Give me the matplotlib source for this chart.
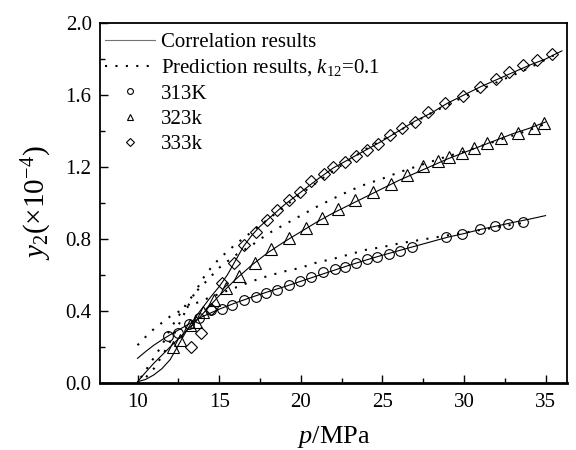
import numpy as np
import matplotlib
matplotlib.use("Agg")
import matplotlib.pyplot as plt
from matplotlib.ticker import MultipleLocator, FormatStrFormatter

plt.rcParams['font.family'] = ['Liberation Serif', 'DejaVu Serif']
plt.rcParams['mathtext.fontset'] = 'custom'
plt.rcParams['mathtext.rm'] = 'Liberation Serif'
plt.rcParams['mathtext.it'] = 'Liberation Serif:italic'

# Experimental data (p in MPa, y2 in 1e-4)
p_313 = [11.85, 12.46, 13.13, 13.78, 14.49, 15.16, 15.81, 16.52, 17.24, 17.88, 18.55, 19.27,
         19.98, 20.65, 21.34, 22.1, 22.7, 23.4, 24.04, 24.7, 25.4, 26.1, 26.8, 28.9, 29.9,
         31.0, 31.9, 32.7, 33.6]
y_313 = [0.26, 0.28, 0.33, 0.36, 0.405, 0.41, 0.433, 0.46, 0.48, 0.498, 0.517, 0.544,
         0.567, 0.59, 0.615, 0.633, 0.646, 0.668, 0.687, 0.698, 0.715, 0.735, 0.757, 0.81, 0.83,
         0.854, 0.872, 0.883, 0.896]

p_323 = [12.2, 12.6, 13.2, 13.6, 14.0, 14.7, 15.4, 16.2, 17.2, 18.2, 19.3, 20.3, 21.3, 22.3,
         23.3, 24.4, 25.5, 26.5, 27.5, 28.4, 29.1, 29.9, 30.6, 31.4, 32.3, 33.3, 34.3, 34.9]
y_323 = [0.2, 0.24, 0.32, 0.34, 0.396, 0.46, 0.53, 0.595, 0.665, 0.745, 0.805, 0.86, 0.915,
         0.965, 1.015, 1.06, 1.105, 1.155, 1.205, 1.235, 1.255, 1.275, 1.305, 1.335, 1.36,
         1.39, 1.415, 1.445]

p_333 = [13.27, 13.88, 14.53, 15.2, 15.9, 16.52, 17.24, 17.95, 18.55, 19.27, 19.98, 20.65,
         21.4, 22.0, 22.73, 23.37, 24.04, 24.76, 25.47, 26.18, 26.99, 27.8, 28.82, 29.94,
         30.96, 31.97, 32.79, 33.6, 34.5, 35.4]
y_333 = [0.2, 0.28, 0.41, 0.557, 0.668, 0.767, 0.84, 0.906, 0.96, 1.017, 1.063, 1.12,
         1.16, 1.2, 1.23, 1.26, 1.294, 1.33, 1.378, 1.415, 1.452, 1.507, 1.554, 1.594,
         1.646, 1.69, 1.73, 1.767, 1.794, 1.828]

# Correlation curves (solid)
pc_313 = [10, 10.5, 11, 11.5, 12, 13, 14, 15, 16, 17, 18, 19, 20, 21, 22, 23, 24, 25, 26,
          27, 28, 29, 30, 31, 32, 33, 34, 35]
yc_313 = [0.137, 0.175, 0.21, 0.24, 0.268, 0.32, 0.37, 0.41, 0.445, 0.477, 0.507, 0.535,
          0.565, 0.595, 0.625, 0.655, 0.683, 0.71, 0.735, 0.76, 0.785, 0.81, 0.83, 0.853,
          0.872, 0.892, 0.91, 0.93]

pc_323 = [10, 10.5, 11, 11.5, 12, 12.5, 13, 13.5, 14, 14.5, 15, 15.5, 16, 17, 18, 19, 20,
          21, 22, 23, 24, 25, 26, 27, 28, 29, 30, 31, 32, 33, 34, 35]
yc_323 = [0.007, 0.06, 0.11, 0.155, 0.2, 0.245, 0.29, 0.335, 0.385, 0.435, 0.485, 0.53,
          0.575, 0.655, 0.725, 0.785, 0.84, 0.895, 0.945, 0.99, 1.035, 1.08, 1.125, 1.165,
          1.205, 1.245, 1.28, 1.315, 1.35, 1.385, 1.415, 1.45]

pc_333 = [10, 10.5, 11, 11.5, 12, 12.5, 13, 13.5, 14, 14.5, 15, 15.5, 16, 16.5, 17, 17.5,
          18, 19, 20, 21, 22, 23, 24, 25, 26, 27, 28, 29, 30, 31, 32, 33, 34, 35, 36]
yc_333 = [0.007, 0.02, 0.045, 0.08, 0.13, 0.21, 0.29, 0.36, 0.42, 0.48, 0.535, 0.6, 0.68,
          0.76, 0.82, 0.87, 0.91, 0.99, 1.06, 1.13, 1.195, 1.245, 1.295, 1.345, 1.4, 1.455,
          1.5, 1.555, 1.6, 1.645, 1.685, 1.725, 1.765, 1.8, 1.845]

# Prediction curves (dotted), k12 = 0.1
pp_313 = [10, 10.5, 11, 11.5, 12, 13, 14, 15, 16, 17, 18, 19, 20, 21, 22, 23, 24, 25, 26,
          27, 28, 29, 30, 31, 32, 33, 34]
yp_313 = [0.21, 0.257, 0.30, 0.335, 0.37, 0.42, 0.46, 0.495, 0.53, 0.565, 0.595, 0.62,
          0.64, 0.67, 0.69, 0.715, 0.74, 0.755, 0.775, 0.79, 0.805, 0.82, 0.835, 0.85, 0.865,
          0.88, 0.895]

pp_323 = [10.2, 10.5, 11, 11.5, 12, 12.5, 13, 13.5, 14, 15, 16, 17, 18, 19, 20, 21, 22, 23,
          24, 25, 26, 27, 28, 29, 30, 31, 32, 33, 34, 35]
yp_323 = [0.03, 0.07, 0.14, 0.21, 0.3, 0.37, 0.44, 0.5, 0.545, 0.64, 0.71, 0.765, 0.83,
          0.88, 0.93, 0.98, 1.025, 1.068, 1.105, 1.135, 1.17, 1.2, 1.23, 1.26, 1.285, 1.315,
          1.345, 1.375, 1.405, 1.44]

pp_333 = [10, 10.5, 11, 11.5, 12, 12.5, 13, 13.5, 14, 14.5, 15, 16, 17, 18, 19, 20, 22,
          24, 26, 28, 30, 32, 34, 35.5]
yp_333 = [0.0, 0.03, 0.08, 0.15, 0.23, 0.32, 0.41, 0.5, 0.58, 0.64, 0.69, 0.77, 0.84,
          0.91, 0.98, 1.05, 1.18, 1.3, 1.4, 1.5, 1.59, 1.67, 1.75, 1.82]

fig = plt.figure(figsize=(5.76, 4.5), dpi=100)
ax = fig.add_axes([0.1736, 0.1489, 0.8104, 0.80])

lw_solid = 0.8
dot_style = (0, (1, 4))
ax.plot(pc_313, yc_313, '-', color='black', lw=lw_solid, label='Correlation results')
ax.plot(pp_313, yp_313, linestyle=dot_style, color='black', lw=1.5,
        label='Prediction results, $k_{12}$=0.1')
ax.plot(pc_323, yc_323, '-', color='black', lw=lw_solid)
ax.plot(pc_333, yc_333, '-', color='black', lw=lw_solid)
ax.plot(pp_323, yp_323, linestyle=dot_style, color='black', lw=1.5)
ax.plot(pp_333, yp_333, linestyle=dot_style, color='black', lw=1.5)

ms = 7
ax.plot(p_313, y_313, 'o', mfc='none', mec='black', mew=0.8, ms=ms, label='313K')
ax.plot(p_323, y_323, '^', mfc='none', mec='black', mew=0.8, ms=ms + 1, label='323k')
ax.plot(p_333, y_333, 'D', mfc='none', mec='black', mew=0.8, ms=ms - 0.5, label='333k')

ax.set_xlim(7.7, 36.3)
ax.set_ylim(0, 2.0)
ax.xaxis.set_major_locator(MultipleLocator(5))
ax.xaxis.set_minor_locator(MultipleLocator(2.5))
ax.yaxis.set_major_locator(MultipleLocator(0.4))
ax.yaxis.set_minor_locator(MultipleLocator(0.2))
ax.yaxis.set_major_formatter(FormatStrFormatter('%.1f'))
ax.set_xticks([10, 15, 20, 25, 30, 35])
ax.tick_params(axis='both', which='major', direction='in', length=6, width=1.0,
               labelsize=15, top=False, right=False)
ax.tick_params(axis='x', which='major', pad=7)
ax.tick_params(axis='y', which='major', pad=6)
ax.tick_params(axis='both', which='minor', direction='in', length=3.5, width=1.0,
               top=False, right=False)
for s in ax.spines.values():
    s.set_linewidth(1.3)
ax.spines['bottom'].set_linewidth(2.0)

ax.set_xlabel('$p$/MPa', fontsize=19, labelpad=9)
ax.set_ylabel('$y_2$(×10$^{-4}$)', fontsize=21, labelpad=8)

leg = ax.legend(loc='upper left', frameon=False, fontsize=15, handlelength=2.4,
                handletextpad=0.3, labelspacing=0.27, borderaxespad=0.0,
                borderpad=0.45, markerscale=0.6, bbox_to_anchor=(-0.01, 1.0))
leg.get_lines()[0].set_color('0.45')

fig.savefig('out.png', dpi=100)
